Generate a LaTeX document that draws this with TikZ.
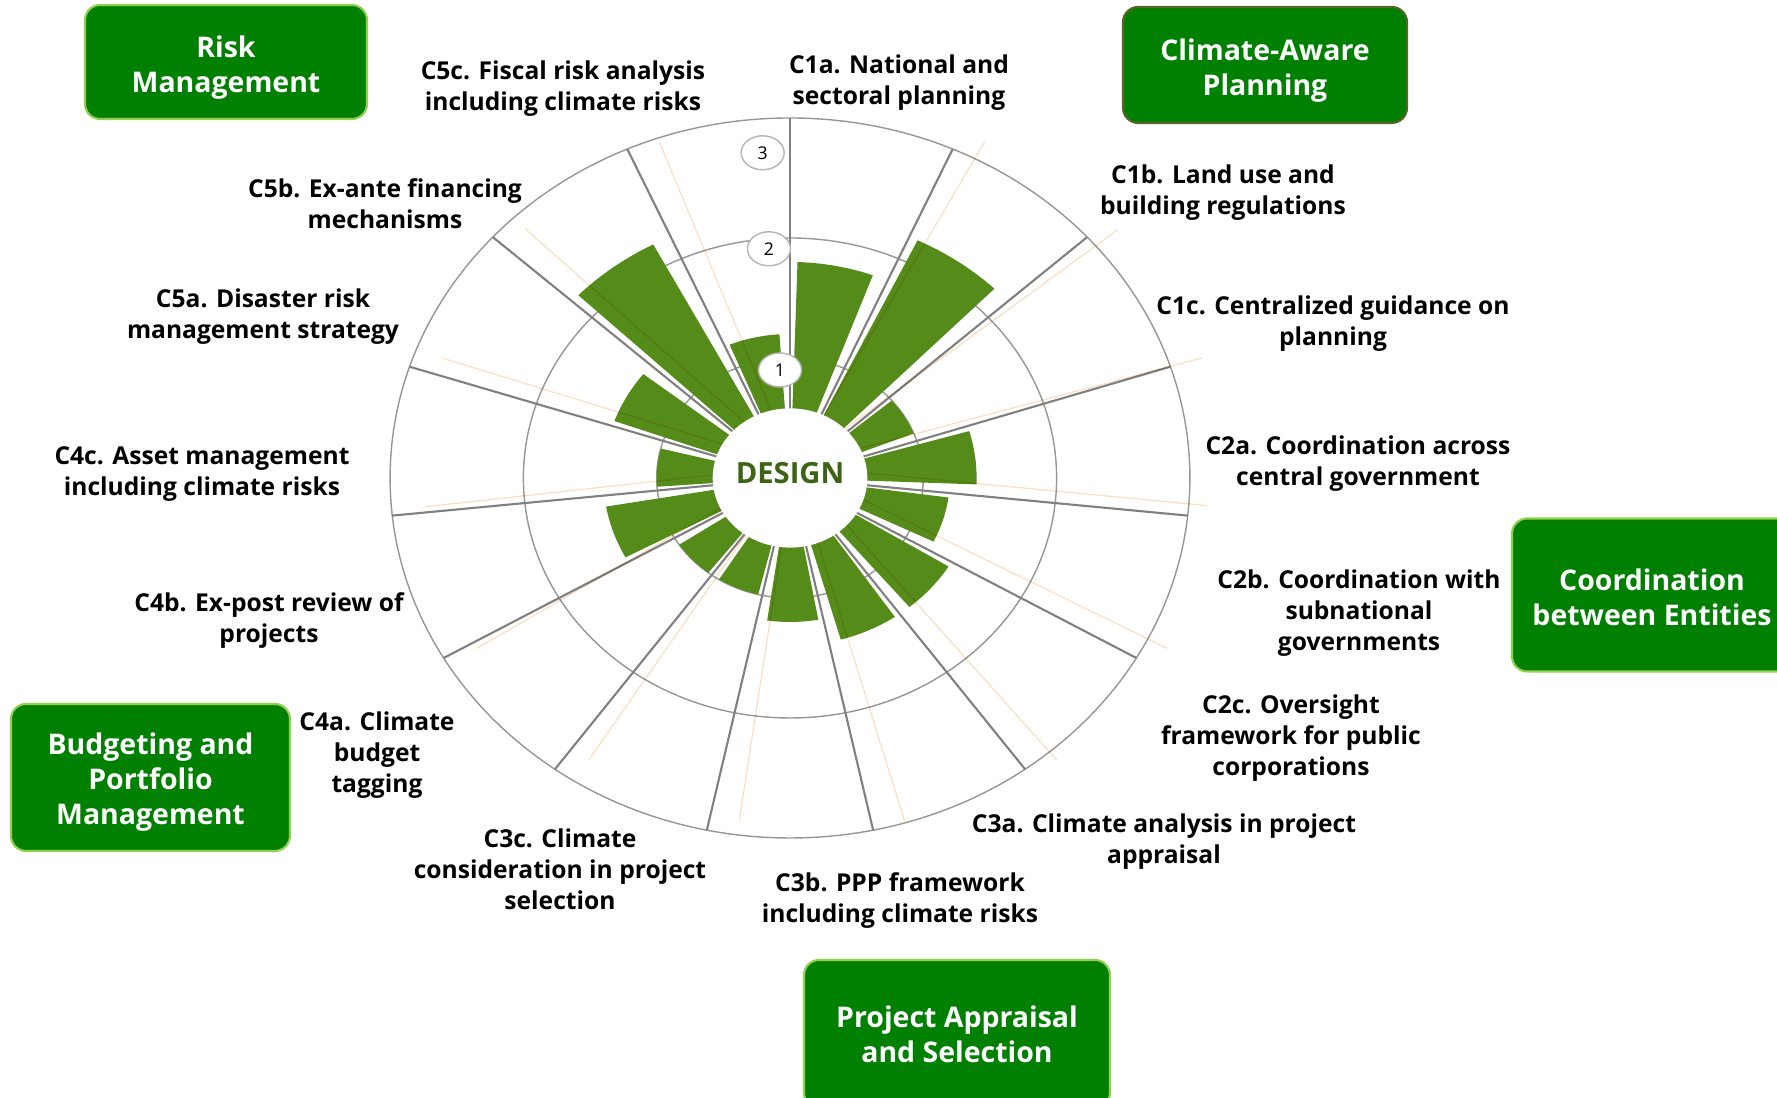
\documentclass[tikz,border=0pt]{standalone}
\usepackage{fontspec}
\setmainfont{Open Sans}
\usetikzlibrary{shapes.geometric}
\definecolor{barg}{RGB}{85,139,25}
\definecolor{boxg}{RGB}{0,128,0}
\definecolor{boxl}{RGB}{146,208,80}
\definecolor{boxd}{RGB}{90,100,40}
\definecolor{divg}{RGB}{128,128,128}
\definecolor{ringg}{RGB}{150,150,150}
\definecolor{spokeo}{RGB}{252,222,195}
\definecolor{designg}{RGB}{60,100,20}
\tikzset{group/.style={draw=boxl, line width=0.6pt, fill=boxg, rounded corners=4.3pt, inner sep=0pt},
    grouptext/.style={text=white, align=center, inner sep=0pt, font=\fontsize{8.1}{10}\selectfont\bfseries},
    lbl/.style={align=center, inner sep=0pt, font=\fontsize{7}{8.8}\selectfont\bfseries},
    ringlbl/.style={ellipse, draw=ringg!70, fill=white, minimum width=0.43cm, minimum height=0.34cm, inner sep=0pt, font=\fontsize{5}{6}\selectfont}}

\begin{document}
\begin{tikzpicture}
    \useasboundingbox (0,0) rectangle (17.77,10.98);
    \clip (0,0) rectangle (17.77,10.98);
    % rose chart
    \begin{scope}[shift={(7.90,6.20)}, xscale=1.333, yscale=1.2]
        \foreach \r in {1,2,3}
            \draw[ringg, line width=0.4pt] (0,0) circle (\r);
        \foreach \v[count=\k from 0] in {1.8,2.2,1.0,1.4,1.2,1.4,1.4,1.2,1.0,1.0,1.4,1.0,1.4,2.2,1.2}{
            \fill[barg] (0,0) -- ({88.2-24*\k}:\v) arc[start angle={88.2-24*\k}, end angle={69.8-24*\k}, radius=\v] -- cycle;
            }
        \foreach \k in {0,...,14}
            \draw[divg, line width=0.6pt] (0,0) -- ({90-24*\k}:3);
        \begin{scope}[blend mode=multiply]
            \foreach \p in {(-0.98,2.80),(-1.99,2.08),(-2.61,1.00),(-2.74,-0.24),(-2.35,-1.42),(-1.51,-2.35),(-0.38,-2.85),
                (0.86,-2.86),(2.00,-2.35),(2.83,-1.42),(3.13,-0.23),(3.09,1.00),(2.46,2.07),(1.46,2.80)}
                \draw[spokeo, line width=0.35pt] (0.03,0.10) -- \p;
        \end{scope}
        \fill[white] (0,0) circle (0.58);
        \node[font=\fontsize{8.3}{10}\selectfont\bfseries, text=designg] (design) at (0,0.04) {DESIGN};
        \node[ringlbl] (r3) at (-0.205,2.71) {3};
        \node[ringlbl] (r2) at (-0.158,1.91) {2};
        \node[ringlbl] (r1) at (-0.075,0.90) {1};
    \end{scope}
    % component labels
    \node[lbl] (c5c) at (5.63,10.096) {C5c. Fiscal risk analysis\\including climate risks};
    \node[lbl] (c1a) at (8.99,10.156) {C1a. National and\\sectoral planning};
    \node[lbl] (c1b) at (12.23,9.056) {C1b. Land use and\\building regulations};
    \node[lbl] (c5b) at (3.85,8.94) {C5b. Ex-ante financing\\mechanisms};
    \node[lbl] (c1c) at (13.33,7.746) {C1c. Centralized guidance on\\planning};
    \node[lbl] (c5a) at (2.63,7.81) {C5a. Disaster risk\\management strategy};
    \node[lbl] (c2a) at (13.58,6.346) {C2a. Coordination across\\central government};
    \node[lbl] (c4c) at (2.02,6.236) {C4c. Asset management\\including climate risks};
    \node[lbl] (c2b) at (13.59,4.846) {C2b. Coordination with\\subnational\\governments};
    \node[lbl] (c4b) at (2.69,4.77) {C4b. Ex-post review of\\projects};
    \node[lbl] (c4a) at (3.77,3.426) {C4a. Climate\\budget\\tagging};
    \node[lbl] (c2c) at (12.91,3.596) {C2c. Oversight\\framework for public\\corporations};
    \node[lbl] (c3a) at (11.64,2.566) {C3a. Climate analysis in project\\appraisal};
    \node[lbl] (c3c) at (5.60,2.29) {C3c. Climate\\consideration in project\\selection};
    \node[lbl] (c3b) at (9.00,1.976) {C3b. PPP framework\\including climate risks};
    % institutions
    \node[group, minimum width=2.82cm, minimum height=1.14cm] (risk) at (2.26,10.36) {};
    \node[group, draw=boxd, minimum width=2.84cm, minimum height=1.16cm] (plan) at (12.65,10.33) {};
    \node[group, minimum width=2.80cm, minimum height=1.53cm] (coord) at (16.52,5.03) {};
    \node[group, minimum width=2.79cm, minimum height=1.47cm] (budget) at (1.505,3.205) {};
    \node[group, minimum width=3.06cm, minimum height=1.48cm] (project) at (9.57,0.64) {};
    \node[grouptext] (risktext) at ([yshift=-0.057cm]risk.center) {Risk\\Management};
    \node[grouptext] (plantext) at ([yshift=-0.057cm]plan.center) {Climate-Aware\\Planning};
    \node[grouptext] (coordtext) at ([yshift=-0.02cm]coord.center) {Coordination\\between Entities};
    \node[grouptext] (budgettext) at ([yshift=-0.045cm]budget.center) {Budgeting and\\Portfolio\\Management};
    \node[grouptext] (projecttext) at (project.center) {Project Appraisal\\and Selection};
\end{tikzpicture}
\end{document}
